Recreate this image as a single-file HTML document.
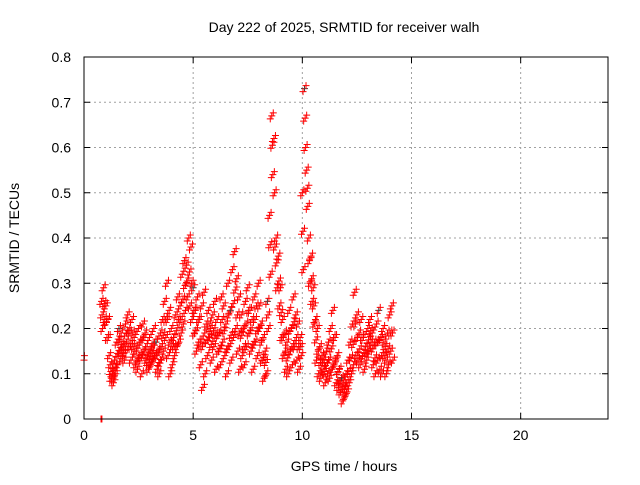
<!DOCTYPE html>
<html><head><meta charset="utf-8"><style>
body{margin:0;background:#fff;}
svg text{font-family:"Liberation Sans",sans-serif;font-size:14px;fill:#000;}
</style></head><body>
<svg id="chart" width="640" height="480" xmlns="http://www.w3.org/2000/svg">
<rect width="640" height="480" fill="#fff"/>
<g id="grid"></g><g id="pts"></g><g id="axes"></g>
</svg>
<script>
const xTicks=[0,5,10,15,20];
const yTicks=[0,0.1,0.2,0.3,0.4,0.5,0.6,0.7,0.8];
const yTickLabels=["0","0.1","0.2","0.3","0.4","0.5","0.6","0.7","0.8"];
const extraTimes=[0.0,0.02,0.78,0.82];
const extraValues=[0.13,0.14,0.0,0.0];
const hours=[0.8,0.9,1.0,1.1,1.2,1.3,1.4,1.5,1.6,1.7,1.8,1.9,2.0,2.1,2.2,2.3,2.4,2.5,2.6,2.7,2.8,2.9,3.0,3.1,3.2,3.3,3.4,3.5,3.6,3.7,3.8,3.9,4.0,4.1,4.2,4.3,4.4,4.5,4.6,4.7,4.8,4.9,5.0,5.1,5.2,5.3,5.4,5.5,5.6,5.7,5.8,5.9,6.0,6.1,6.2,6.3,6.4,6.5,6.6,6.7,6.8,6.9,7.0,7.1,7.2,7.3,7.4,7.5,7.6,7.7,7.8,7.9,8.0,8.1,8.2,8.3,8.4,8.5,8.6,8.7,8.8,8.9,9.0,9.1,9.2,9.3,9.4,9.5,9.6,9.7,9.8,9.9,10.0,10.1,10.2,10.3,10.4,10.5,10.6,10.7,10.8,10.9,11.0,11.1,11.2,11.3,11.4,11.5,11.6,11.7,11.8,11.9,12.0,12.1,12.2,12.3,12.4,12.5,12.6,12.7,12.8,12.9,13.0,13.1,13.2,13.3,13.4,13.5,13.6,13.7,13.8,13.9,14.0,14.1];
const valuesA=[0.26,0.29,0.25,0.22,0.12,0.10,0.13,0.17,0.20,0.19,0.16,0.21,0.23,0.19,0.22,0.18,0.15,0.20,0.17,0.21,0.19,0.14,0.18,0.16,0.20,0.17,0.15,0.19,0.22,0.26,0.30,0.24,0.20,0.18,0.23,0.27,0.25,0.32,0.35,0.34,0.40,0.38,0.29,0.24,0.27,0.22,0.25,0.28,0.21,0.24,0.20,0.23,0.26,0.22,0.19,0.27,0.25,0.21,0.30,0.24,0.33,0.37,0.31,0.27,0.23,0.20,0.26,0.29,0.24,0.22,0.27,0.25,0.30,0.21,0.18,0.15,0.26,0.45,0.67,0.62,0.40,0.36,0.29,0.22,0.19,0.17,0.24,0.20,0.27,0.23,0.21,0.18,0.50,0.73,0.55,0.40,0.36,0.29,0.22,0.20,0.16,0.14,0.13,0.15,0.17,0.20,0.24,0.18,0.14,0.11,0.09,0.08,0.10,0.13,0.17,0.21,0.28,0.23,0.19,0.22,0.18,0.16,0.20,0.22,0.19,0.17,0.21,0.24,0.18,0.20,0.16,0.19,0.23,0.25];
const valuesB=[0.20,0.22,0.18,0.14,0.09,0.08,0.10,0.12,0.15,0.14,0.13,0.17,0.16,0.13,0.16,0.12,0.11,0.14,0.10,0.15,0.13,0.11,0.12,0.13,0.14,0.11,0.10,0.13,0.15,0.18,0.14,0.10,0.12,0.14,0.16,0.17,0.19,0.21,0.24,0.27,0.25,0.22,0.19,0.15,0.17,0.12,0.07,0.10,0.14,0.18,0.13,0.16,0.11,0.15,0.12,0.17,0.14,0.10,0.16,0.13,0.18,0.20,0.15,0.11,0.14,0.12,0.16,0.19,0.15,0.11,0.17,0.14,0.20,0.13,0.09,0.10,0.20,0.32,0.54,0.38,0.29,0.25,0.18,0.14,0.11,0.10,0.15,0.12,0.16,0.13,0.11,0.14,0.33,0.60,0.47,0.30,0.26,0.21,0.13,0.10,0.09,0.11,0.08,0.10,0.09,0.11,0.12,0.08,0.07,0.06,0.04,0.05,0.06,0.08,0.10,0.12,0.14,0.13,0.12,0.14,0.11,0.13,0.15,0.17,0.12,0.10,0.13,0.11,0.10,0.14,0.10,0.12,0.15,0.13];

const NS="http://www.w3.org/2000/svg";
const L=84,R=608,T=57,B=419;
const xs=h=>L+h/24*(R-L);
const ys=v=>B-v/0.8*(B-T);
function mk(tag,attrs,parent){const e=document.createElementNS(NS,tag);for(const k in attrs)e.setAttribute(k,attrs[k]);parent.appendChild(e);return e;}
const grid=document.getElementById('grid'),axes=document.getElementById('axes'),pts=document.getElementById('pts');

yTicks.forEach((v,i)=>{
  const y=ys(v);
  if(i>0&&i<yTicks.length-1){const g=mk('line',{x1:L,x2:R,y1:y,y2:y,stroke:'#a0a0a0','stroke-dasharray':'2,3'},grid);
  
  }
  const t=mk('text',{x:71,y:y+5,'text-anchor':'end'},axes);t.textContent=yTickLabels[i];
  
  
  mk('line',{x1:L,x2:L+6,y1:y,y2:y,stroke:'#000'},axes);
  mk('line',{x1:R,x2:R-6,y1:y,y2:y,stroke:'#000'},axes);
});
xTicks.forEach(h=>{
  const x=xs(h);
  if(h>0){const g=mk('line',{x1:x,x2:x,y1:T,y2:B,stroke:'#a0a0a0','stroke-dasharray':'2,3'},grid);
  
  }
  const t=mk('text',{x:x,y:B+21,'text-anchor':'middle'},axes);t.textContent=String(h);
  
  
  mk('line',{x1:x,x2:x,y1:B,y2:B-6,stroke:'#000'},axes);
  mk('line',{x1:x,x2:x,y1:T,y2:T+6,stroke:'#000'},axes);
});
const frame=mk('rect',{x:L,y:T,width:R-L,height:B-T,fill:'none',stroke:'#000'},axes);



function plus(h,v,color,dx,dy){
  const x=xs(h)+(dx||0),y=ys(v)+(dy||0);
  const p=mk('path',{d:`M${x-3.5},${y}H${x+3.5}M${x},${y-3.5}V${y+3.5}`,stroke:color,'stroke-width':1},pts);
  
  
}
function cluster(h,v,color){
  plus(h,v,color,0,0);
  plus(h,v,'#ff0000',-1.5,3);
  plus(h,v,'#ff0000',1.5,-3);
}
extraTimes.forEach((h,i)=>plus(h,extraValues[i],'#ff0000'));
hours.forEach((h,i)=>{
  cluster(h,valuesA[i],i%17===8?'#404040':'#ff0000');
  cluster(h+0.05,valuesB[i],'#ff0000');
  cluster(h+0.03,(valuesA[i]+valuesB[i])/2,'#ff0000');
});

const title=mk('text',{x:344,y:32,'text-anchor':'middle'},axes);title.textContent='Day 222 of 2025, SRMTID for receiver walh';


const xl=mk('text',{x:344,y:471,'text-anchor':'middle'},axes);xl.textContent='GPS time / hours';


const yl=mk('text',{x:19,y:238,'text-anchor':'middle',transform:'rotate(-90 19 238)'},axes);yl.textContent='SRMTID / TECUs';


</script>
</body></html>
